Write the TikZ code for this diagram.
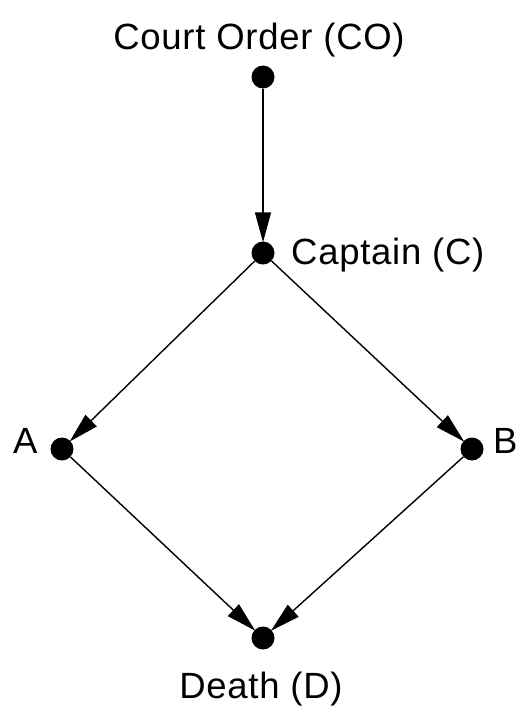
\documentclass[tikz,border=0pt]{standalone}
\usepackage{fontspec}
\setmainfont{Liberation Sans}[LetterSpace=2]
\usetikzlibrary{arrows.meta}
\begin{document}
\begin{tikzpicture}[x=1pt,y=-1pt,
  dot/.style={circle,fill=black,inner sep=0pt,minimum size=23pt},
  lbl/.style={inner sep=0pt,font=\fontsize{36.5}{40}\selectfont},
  edge/.style={line width=1.4pt,-{Triangle[length=30pt,width=16pt]},shorten >=-1pt}]
\useasboundingbox (0,0) rectangle (528,720);
\node[dot] (co) at (263,77) {};
\node[dot] (c) at (263,253) {};
\node[dot] (a) at (62,449) {};
\node[dot] (b) at (472,449) {};
\node[dot] (d) at (263,638) {};
\node[lbl,anchor=base] (tco) at (259,49) {Court Order (CO)};
\node[lbl,anchor=base west] (tc) at (291,264) {Captain (C)};
\node[lbl,anchor=base west] (ta) at (13,453) {A};
\node[lbl,anchor=base west] (tb) at (493,453) {B};
\node[lbl,anchor=base] (td) at (261,698) {Death (D)};
\draw[edge] (co) -- (c);
\draw[edge] (c) -- (a);
\draw[edge] (c) -- (b);
\draw[edge] (a) -- (d);
\draw[edge] (b) -- (d);
\end{tikzpicture}
\end{document}
